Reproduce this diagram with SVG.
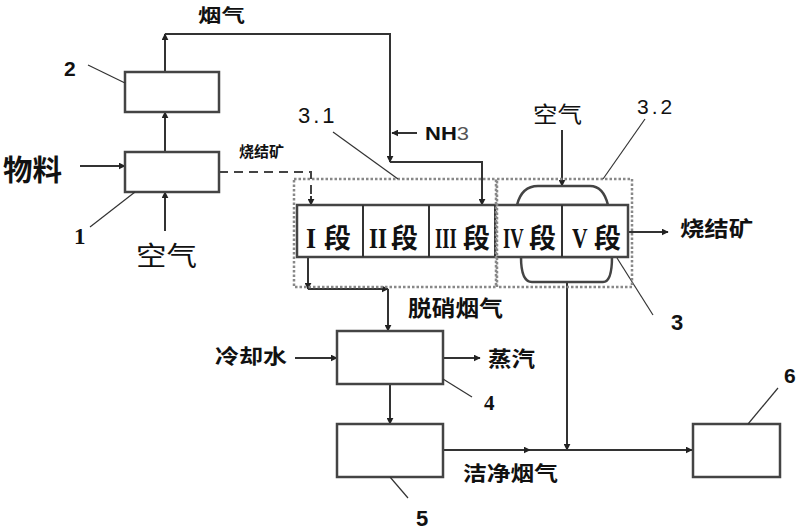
<svg xmlns="http://www.w3.org/2000/svg" width="799" height="530" viewBox="0 0 799 530">
<defs>
<marker id="ah" viewBox="0 0 10 10" refX="9" refY="5" markerWidth="7" markerHeight="7" markerUnits="userSpaceOnUse" orient="auto"><path d="M0,0 L10,5 L0,10 Z" fill="#222"/></marker>
<style>
.box{fill:#fff;stroke:#444;stroke-width:2.5}
.ln{fill:none;stroke:#333;stroke-width:2}
.ar{fill:none;stroke:#333;stroke-width:2;marker-end:url(#ah)}
.dash{fill:none;stroke:#444;stroke-width:2;stroke-dasharray:9,6}
.dot{fill:none;stroke:#888;stroke-width:2.5;stroke-dasharray:2.5,2}
.lead{fill:none;stroke:#333;stroke-width:1.2}
.hood{fill:#fff;stroke:#444;stroke-width:2.5}
.cn{font-family:"Noto Sans CJK SC","Noto Sans",sans-serif;fill:#111}
.b{font-weight:bold}
.num{font-family:"Liberation Sans",Arial,sans-serif;fill:#111}
.ser{font-family:"Liberation Serif","Times New Roman",serif;fill:#111;font-weight:bold}
.rom{font-family:"Liberation Serif","Times New Roman",serif;fill:#111;font-weight:bold;font-size:30px}
.seg{font-family:"Noto Sans CJK SC","Noto Sans",sans-serif;fill:#111;font-weight:bold;font-size:27px}
</style>
</defs>
<rect width="799" height="530" fill="#fff"/>

<g id="connectors">
<path class="ar" d="M80,166 H125"/>
<path class="ar" d="M165,231 V192"/>
<path class="ar" d="M165,152 V112"/>
<path class="ar" d="M165,72 V34"/>
<path class="ar" d="M165,34 H390 V162"/>
<path class="ar" d="M390,162 H482 V205"/>
<path class="ar" d="M417,133 H392"/>
<path class="dash" d="M219,172 H311 V196"/>
<path class="ar" d="M311,196 V205"/>
<path class="ar" d="M308,257 V289"/>
<path class="ar" d="M308,289 H388"/>
<path class="ar" d="M388,289 V331"/>
<path class="ar" d="M295,358 H337"/>
<path class="ar" d="M443,358 H480"/>
<path class="ar" d="M390,384 V424"/>
<path class="ar" d="M562,130 V186"/>
<path class="ar" d="M628,232 H668"/>
<path class="ar" d="M567,283 V450"/>
<path class="ar" d="M443,450 H530"/>
<path class="ar" d="M530,450 H692"/>
</g>

<g id="node-2"><rect class="box" x="125" y="72" width="94" height="40"/>
<text class="num b" x="64" y="76" font-size="21">2</text>
<path class="lead" d="M88,65 L125,83"/></g>

<g id="node-1"><rect class="box" x="125" y="152" width="94" height="40"/>
<text class="ser" x="74" y="244" font-size="23">1</text>
<path class="lead" d="M90,227 L135,192"/></g>

<g id="node-4"><rect class="box" x="337" y="331" width="106" height="53"/>
<text class="ser" x="484" y="410" font-size="21">4</text>
<path class="lead" d="M443,379 L472,397"/></g>

<g id="node-5"><rect class="box" x="337" y="424" width="106" height="53"/>
<text class="num b" x="416" y="526" font-size="22">5</text>
<path class="lead" d="M390,477 L408,498"/></g>

<g id="node-6"><rect class="box" x="693" y="424" width="87" height="53"/>
<text class="num b" x="784" y="383" font-size="21">6</text>
<path class="lead" d="M778,388 L748,424"/></g>

<g id="node-3">
<path class="hood" d="M517,205 C520,193 527,186 538,186 L590,186 C600,186 605,193 608,205 Z"/>
<path class="hood" d="M521,257 C521,272 524,282 532,282 L603,282 C610,282 612,272 612,257 Z"/>
<rect class="box" x="297" y="205" width="331" height="52"/>
<path class="ln" d="M363,205 V257 M429,205 V257 M495,205 V257 M562,205 V257" stroke-width="2.5"/>
<text class="rom" transform="translate(306,248) scale(0.86,1)">I</text>
<text class="seg" x="324" y="248">段</text>
<text class="rom" transform="translate(369,248) scale(0.77,1)">II</text>
<text class="seg" x="391" y="248">段</text>
<text class="rom" transform="translate(435,248) scale(0.62,1)">III</text>
<text class="seg" x="463" y="248">段</text>
<text class="rom" transform="translate(503,248) scale(0.62,1)">IV</text>
<text class="seg" x="529" y="248">段</text>
<text class="rom" transform="translate(572,248) scale(0.72,1)">V</text>
<text class="seg" x="594" y="248">段</text>
<text class="num b" x="671" y="330" font-size="22">3</text>
<path class="lead" d="M653,315 L617,258"/>
</g>

<g id="zone-3-1"><rect class="dot" x="294" y="179" width="202" height="108"/>
<text class="num" x="298" y="123" font-size="22" letter-spacing="3">3.1</text>
<path class="lead" d="M333,132 L398,179"/></g>

<g id="zone-3-2"><rect class="dot" x="497" y="179" width="135" height="108"/>
<text class="num" x="637" y="114" font-size="21" letter-spacing="3">3.2</text>
<path class="lead" d="M645,119 L603,179"/></g>

<g id="labels">
<text class="cn b" x="198" y="22" font-size="18" textLength="47" lengthAdjust="spacingAndGlyphs">烟气</text>
<text class="cn b" x="3" y="181" font-size="29" textLength="59" lengthAdjust="spacingAndGlyphs">物料</text>
<text class="cn b" x="239" y="157" font-size="15" textLength="45" lengthAdjust="spacingAndGlyphs">烧结矿</text>
<text class="cn" x="136" y="266" font-size="27" textLength="61" lengthAdjust="spacingAndGlyphs">空气</text>
<text x="425" y="140" font-size="18" font-family="Liberation Sans,Arial,sans-serif" font-weight="bold" fill="#111" textLength="44" lengthAdjust="spacingAndGlyphs">NH<tspan font-weight="normal" fill="#555">3</tspan></text>
<text class="cn" x="533" y="122" font-size="22" textLength="49" lengthAdjust="spacingAndGlyphs">空气</text>
<text class="cn b" x="680" y="236" font-size="21" textLength="73" lengthAdjust="spacingAndGlyphs">烧结矿</text>
<text class="cn b" x="408" y="316" font-size="22" textLength="95" lengthAdjust="spacingAndGlyphs">脱硝烟气</text>
<text class="cn b" x="215" y="364" font-size="20" textLength="72" lengthAdjust="spacingAndGlyphs">冷却水</text>
<text class="cn b" x="488" y="366" font-size="21" textLength="47" lengthAdjust="spacingAndGlyphs">蒸汽</text>
<text class="cn b" x="463" y="481" font-size="20" textLength="95" lengthAdjust="spacingAndGlyphs">洁净烟气</text>
</g>
</svg>
